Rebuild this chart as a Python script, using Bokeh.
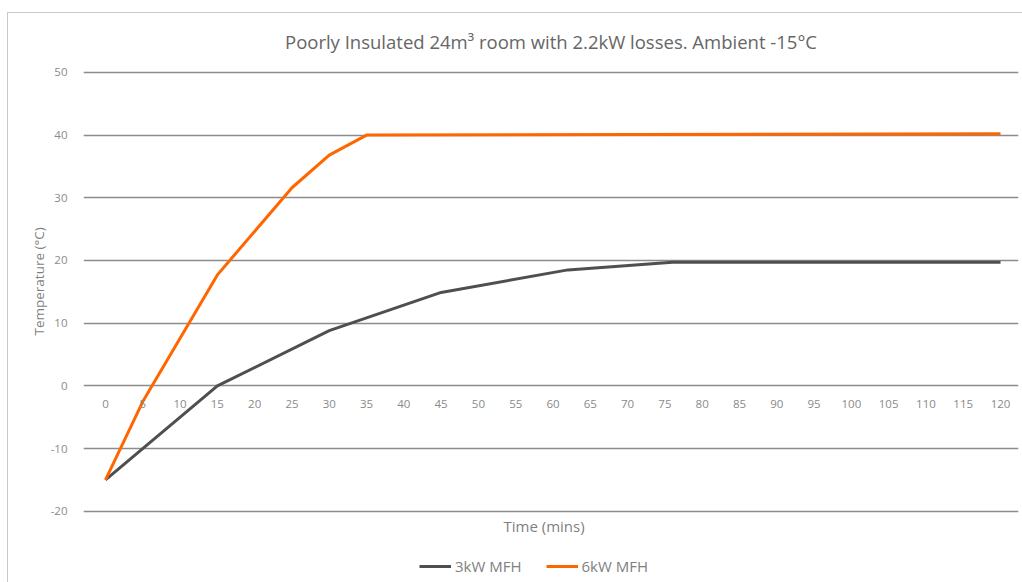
from bokeh.plotting import figure
from bokeh.models import Title, Legend, LegendItem, Range1d, FixedTicker, Label
from bokeh.embed import file_html
from bokeh.resources import INLINE

FONT = "Open Sans"

# ---- data ----
time_3kw = [0, 15, 30, 45, 62, 76, 120]
temp_3kw = [-15.0, 0.0, 8.8, 14.9, 18.5, 19.7, 19.7]
time_6kw = [0, 5, 15, 25, 30, 35, 120]
temp_6kw = [-15.0, -2.5, 17.7, 31.6, 36.8, 40.0, 40.2]
x_ticks = list(range(0, 125, 5))
y_ticks = [-20, -10, 0, 10, 20, 30, 40, 50]
y_tick_labels = ["-20", "-10", "0", "10", "20", "30", "40", "50"]
series_names = ["3kW MFH", "6kW MFH"]
chart_title = "Poorly Insulated 24m³ room with 2.2kW losses. Ambient -15°C"
x_title = "Time (mins)"
y_title = "Temperature (°C)"

# frame spans the lower part of the page too, so the legend can sit inside it
p = figure(width=1022, height=582, output_backend="svg", toolbar_location=None,
           x_range=Range1d(-2.95, 122.41), y_range=Range1d(-31.36, 50.3),
           min_border_left=83, min_border_right=4, min_border_top=70, min_border_bottom=0)

p.outline_line_color = None
p.border_fill_alpha = 0
p.background_fill_color = "white"
p.styles = {
    "background": "linear-gradient(#c8c8c8,#c8c8c8) 7px 12px / 100% 1px no-repeat, "
                  "linear-gradient(#c8c8c8,#c8c8c8) 7px 12px / 1px 100% no-repeat, #ffffff"
}

# title
p.title.text = chart_title
p.title.align = "center"
p.title.offset = 3
p.title.standoff = 33
p.title.text_font = FONT
p.title.text_font_size = "18.5px"
p.title.text_font_style = "normal"
p.title.text_color = "#666666"

# grid
p.xgrid.visible = False
p.ygrid.ticker = FixedTicker(ticks=y_ticks)
p.ygrid.grid_line_color = "#8c8c8c"
p.ygrid.grid_line_width = 1.3

# y axis
p.yaxis.ticker = FixedTicker(ticks=y_ticks)
p.yaxis.major_label_overrides = dict(zip(y_ticks, y_tick_labels))
p.yaxis.axis_line_color = None
p.yaxis.major_tick_line_color = None
p.yaxis.minor_tick_line_color = None
p.yaxis.major_tick_out = 0
p.yaxis.major_tick_in = 0
p.yaxis.major_label_standoff = 16
p.yaxis.major_label_text_font = FONT
p.yaxis.major_label_text_font_size = "11.5px"
p.yaxis.major_label_text_color = "#8a8a8a"

# x axis crossing at 0
p.xaxis.fixed_location = 0
p.xaxis.ticker = FixedTicker(ticks=x_ticks)
p.xaxis.axis_line_color = None
p.xaxis.major_tick_line_color = None
p.xaxis.minor_tick_line_color = None
p.xaxis.major_label_standoff = 8
p.xaxis.major_label_text_font = FONT
p.xaxis.major_label_text_font_size = "11.5px"
p.xaxis.major_label_text_color = "#8a8a8a"

# series
r3 = p.line(time_3kw, temp_3kw, line_color="#4f4f4f", line_width=3, line_join="round")
r6 = p.line(time_6kw, temp_6kw, line_color="#ff6600", line_width=3, line_join="round")

# y title on the left
p.add_layout(Title(text=y_title, align="left", offset=247, standoff=0,
                   text_font=FONT, text_font_size="13.5px", text_font_style="normal",
                   text_color="#7f7f7f"), "left")

# x title under the -20 line
p.add_layout(Label(x=58.8, y=-22.27, text=x_title, text_align="center",
                   text_baseline="middle", text_font=FONT, text_font_size="15px",
                   text_color="#7f7f7f"))

# legend at the bottom
legend = Legend(items=[LegendItem(label=series_names[0], renderers=[r3]),
                       LegendItem(label=series_names[1], renderers=[r6])],
                orientation="horizontal", location=(336, 6), spacing=24,
                glyph_width=32, glyph_height=18, label_standoff=4,
                padding=0, margin=0, border_line_color=None, background_fill_alpha=0,
                label_text_font=FONT, label_text_font_size="15px",
                label_text_color="#7f7f7f")
p.add_layout(legend)

open("out.html", "w").write(file_html(p, INLINE))
